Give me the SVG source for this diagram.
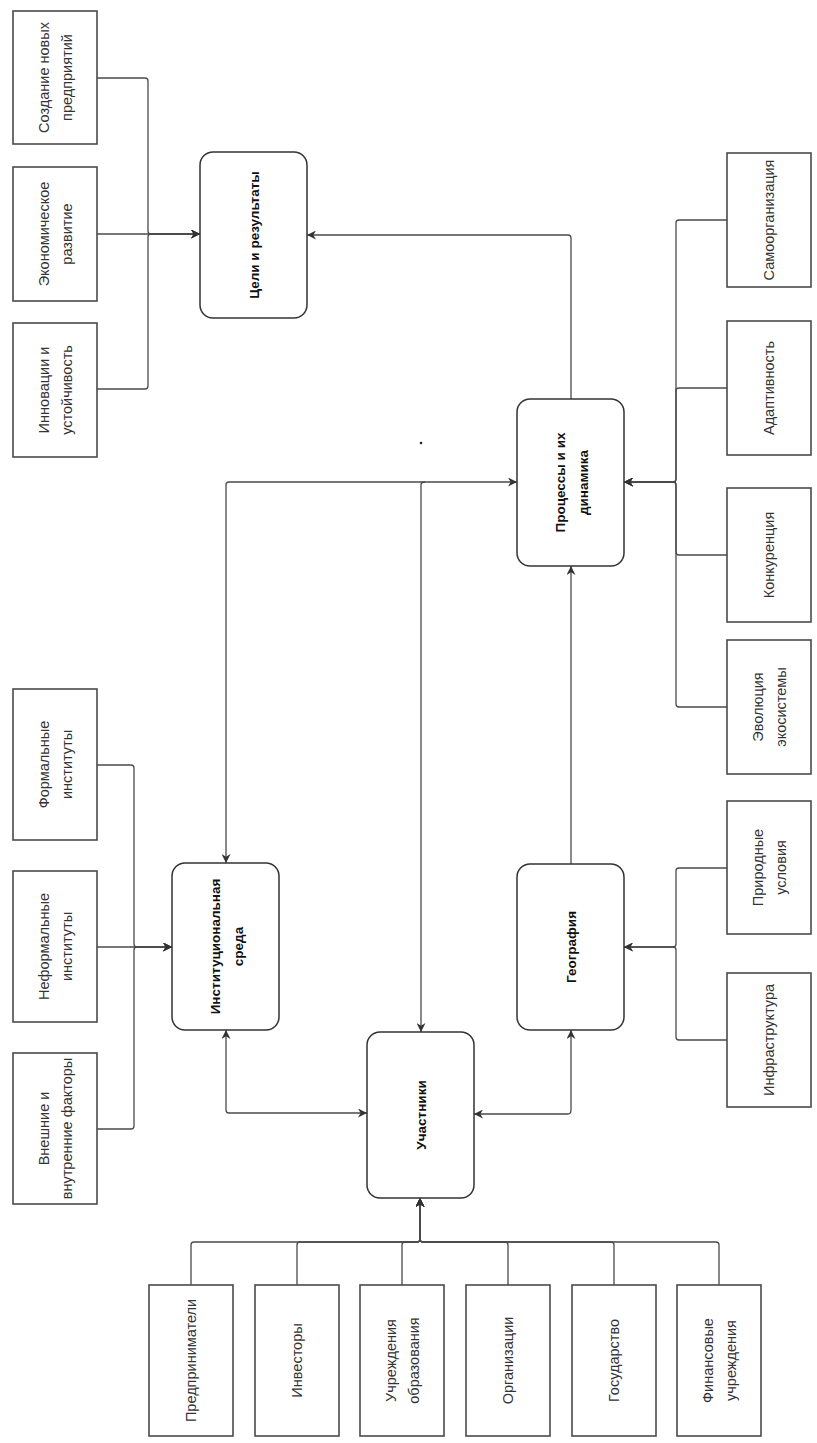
<svg xmlns="http://www.w3.org/2000/svg" width="817" height="1443" viewBox="0 0 817 1443">
<style>
.leaf{fill:#fff;stroke:#4a4a4a;stroke-width:1.6}
.node{fill:#fff;stroke:#333;stroke-width:1.5}
.lt{font-family:"Liberation Sans",Arial,sans-serif;font-size:14.5px;fill:#333;text-anchor:middle}
.bt{font-family:"Liberation Sans",Arial,sans-serif;font-size:13.5px;font-weight:bold;fill:#111;text-anchor:middle}
.c{fill:none;stroke:#4a4a4a;stroke-width:1.3}
.e{marker-end:url(#ah)}
.b{marker-start:url(#ah);marker-end:url(#ah)}
</style>
<defs>
<marker id="ah" viewBox="0 0 10 10" refX="10" refY="5" markerWidth="9" markerHeight="9" markerUnits="userSpaceOnUse" orient="auto-start-reverse">
<path d="M0,0 L10,5 L0,10 L3,5 Z" fill="#333"/>
</marker>
</defs>
<rect width="817" height="1443" fill="#fff"/>

<g id="connectors">
<path class="c e" d="M97,78 H145 Q148,78 148,81 V231 Q148,234 151,234 H200"/>
<path class="c e" d="M97,234 H200"/>
<path class="c e" d="M97,389 H145 Q148,389 148,386 V237 Q148,234 151,234 H200"/>
<path class="c e" d="M571,399 V238 Q571,235 568,235 H307"/>
<path class="c e" d="M727,220 H679 Q676,220 676,223 V479 Q676,482 673,482 H624"/>
<path class="c e" d="M727,388 H679 Q676,388 676,391 V479 Q676,482 673,482 H624"/>
<path class="c e" d="M727,555 H679 Q676,555 676,552 V485 Q676,482 673,482 H624"/>
<path class="c e" d="M727,707 H679 Q676,707 676,704 V485 Q676,482 673,482 H624"/>
<path class="c e" d="M727,868 H679 Q676,868 676,871 V944 Q676,947 673,947 H624"/>
<path class="c e" d="M727,1040 H679 Q676,1040 676,1037 V950 Q676,947 673,947 H624"/>
<path class="c e" d="M97,765 H131 Q134,765 134,768 V944 Q134,947 137,947 H172"/>
<path class="c e" d="M97,947 H172"/>
<path class="c e" d="M97,1129 H131 Q134,1129 134,1126 V950 Q134,947 137,947 H172"/>
<path class="c e" d="M571,864 V566"/>
<path class="c b" d="M226,863 V485 Q226,482 229,482 H517"/>
<path class="c e" d="M425,482 Q421,482 421,485 V1032"/>
<path class="c b" d="M226,1030 V1110 Q226,1113 229,1113 H367"/>
<path class="c b" d="M571,1030 V1110 Q571,1114 568,1114 H474"/>
<path class="c e" d="M191,1285 V1245 Q191,1242 194,1242 H417 Q420,1242 420,1239 V1198"/>
<path class="c e" d="M297,1285 V1245 Q297,1242 300,1242 H417 Q420,1242 420,1239 V1198"/>
<path class="c e" d="M402,1285 V1245 Q402,1242 405,1242 H417 Q420,1242 420,1239 V1198"/>
<path class="c e" d="M508,1285 V1245 Q508,1242 505,1242 H423 Q420,1242 420,1239 V1198"/>
<path class="c e" d="M614,1285 V1245 Q614,1242 611,1242 H423 Q420,1242 420,1239 V1198"/>
<path class="c e" d="M719,1285 V1245 Q719,1242 716,1242 H423 Q420,1242 420,1239 V1198"/>
</g>

<circle cx="421" cy="443" r="1.3" fill="#222"/>

<g id="n_goals"><rect class="node" x="200" y="152" width="107" height="166" rx="13"/>
<text class="bt" transform="rotate(-90 253.5 235)" x="253.5" y="240">Цели и результаты</text></g>
<g id="n_process"><rect class="node" x="517" y="399" width="107" height="167" rx="13"/>
<text class="bt" transform="rotate(-90 570.5 482.5)" x="570.5" y="476.5">Процессы и их</text>
<text class="bt" transform="rotate(-90 570.5 482.5)" x="570.5" y="499.5">динамика</text></g>
<g id="n_inst"><rect class="node" x="172" y="863" width="107" height="167" rx="13"/>
<text class="bt" transform="rotate(-90 225.5 946.5)" x="225.5" y="940.5">Институциональная</text>
<text class="bt" transform="rotate(-90 225.5 946.5)" x="225.5" y="963.5">среда</text></g>
<g id="n_geo"><rect class="node" x="517" y="864" width="107" height="166" rx="13"/>
<text class="bt" transform="rotate(-90 570.5 947)" x="570.5" y="952">География</text></g>
<g id="n_part"><rect class="node" x="367" y="1032" width="107" height="166" rx="13"/>
<text class="bt" transform="rotate(-90 420.5 1115)" x="420.5" y="1120">Участники</text></g>

<g id="n_sozdanie"><rect class="leaf" x="13" y="11" width="84" height="133"/>
<text class="lt" transform="rotate(-90 55 77.5)" x="55" y="71">Создание новых</text>
<text class="lt" transform="rotate(-90 55 77.5)" x="55" y="94">предприятий</text></g>
<g id="n_econ"><rect class="leaf" x="13" y="167" width="84" height="134"/>
<text class="lt" transform="rotate(-90 55 234)" x="55" y="227.5">Экономическое</text>
<text class="lt" transform="rotate(-90 55 234)" x="55" y="250.5">развитие</text></g>
<g id="n_innov"><rect class="leaf" x="13" y="323" width="84" height="134"/>
<text class="lt" transform="rotate(-90 55 390)" x="55" y="383.5">Инновации и</text>
<text class="lt" transform="rotate(-90 55 390)" x="55" y="406.5">устойчивость</text></g>

<g id="n_formal"><rect class="leaf" x="13" y="689" width="84" height="151"/>
<text class="lt" transform="rotate(-90 55 764.5)" x="55" y="758">Формальные</text>
<text class="lt" transform="rotate(-90 55 764.5)" x="55" y="781">институты</text></g>
<g id="n_neformal"><rect class="leaf" x="13" y="871" width="84" height="151"/>
<text class="lt" transform="rotate(-90 55 946.5)" x="55" y="940">Неформальные</text>
<text class="lt" transform="rotate(-90 55 946.5)" x="55" y="963">институты</text></g>
<g id="n_vneshnie"><rect class="leaf" x="13" y="1053" width="84" height="151"/>
<text class="lt" transform="rotate(-90 55 1128.5)" x="55" y="1122">Внешние и</text>
<text class="lt" transform="rotate(-90 55 1128.5)" x="55" y="1145">внутренние факторы</text></g>

<g id="n_samoorg"><rect class="leaf" x="727" y="153" width="84" height="134"/>
<text class="lt" transform="rotate(-90 769 220)" x="769" y="225">Самоорганизация</text></g>
<g id="n_adapt"><rect class="leaf" x="727" y="321" width="84" height="134"/>
<text class="lt" transform="rotate(-90 769 388)" x="769" y="393">Адаптивность</text></g>
<g id="n_konk"><rect class="leaf" x="727" y="488" width="84" height="134"/>
<text class="lt" transform="rotate(-90 769 555)" x="769" y="560">Конкуренция</text></g>
<g id="n_evol"><rect class="leaf" x="727" y="640" width="84" height="134"/>
<text class="lt" transform="rotate(-90 769 707)" x="769" y="700.5">Эволюция</text>
<text class="lt" transform="rotate(-90 769 707)" x="769" y="723.5">экосистемы</text></g>
<g id="n_prirod"><rect class="leaf" x="727" y="801" width="84" height="133"/>
<text class="lt" transform="rotate(-90 769 867.5)" x="769" y="861">Природные</text>
<text class="lt" transform="rotate(-90 769 867.5)" x="769" y="884">условия</text></g>
<g id="n_infra"><rect class="leaf" x="727" y="973" width="84" height="134"/>
<text class="lt" transform="rotate(-90 769 1040)" x="769" y="1045">Инфраструктура</text></g>

<g id="n_predpr"><rect class="leaf" x="149" y="1285" width="84" height="151"/>
<text class="lt" transform="rotate(-90 191 1360.5)" x="191" y="1365.5">Предприниматели</text></g>
<g id="n_invest"><rect class="leaf" x="255" y="1285" width="84" height="151"/>
<text class="lt" transform="rotate(-90 297 1360.5)" x="297" y="1365.5">Инвесторы</text></g>
<g id="n_edu"><rect class="leaf" x="360" y="1285" width="84" height="151"/>
<text class="lt" transform="rotate(-90 402 1360.5)" x="402" y="1354">Учреждения</text>
<text class="lt" transform="rotate(-90 402 1360.5)" x="402" y="1377">образования</text></g>
<g id="n_org"><rect class="leaf" x="466" y="1285" width="84" height="151"/>
<text class="lt" transform="rotate(-90 508 1360.5)" x="508" y="1365.5">Организации</text></g>
<g id="n_gov"><rect class="leaf" x="572" y="1285" width="84" height="151"/>
<text class="lt" transform="rotate(-90 614 1360.5)" x="614" y="1365.5">Государство</text></g>
<g id="n_fin"><rect class="leaf" x="677" y="1285" width="84" height="151"/>
<text class="lt" transform="rotate(-90 719 1360.5)" x="719" y="1354">Финансовые</text>
<text class="lt" transform="rotate(-90 719 1360.5)" x="719" y="1377">учреждения</text></g>
</svg>
